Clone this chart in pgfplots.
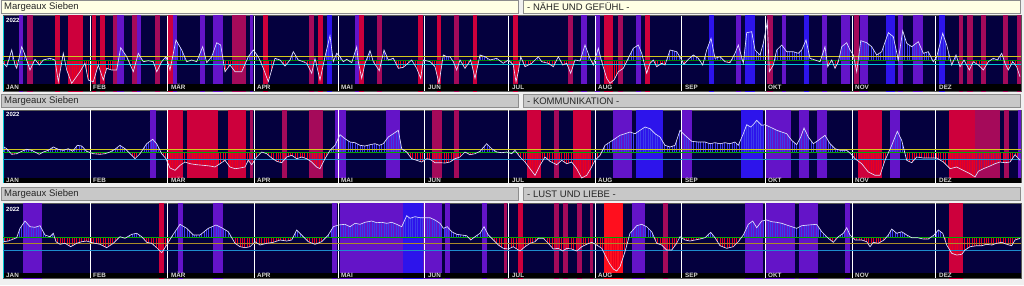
\documentclass[border=0pt]{standalone}
\usepackage{pgfplots}
\pgfplotsset{compat=1.18}
\usepackage{pgfplotstable}
\usetikzlibrary{patterns.meta}
\usepackage{fontspec}
\setmainfont{Liberation Sans}

\definecolor{pagebg}{RGB}{240,240,240}
\definecolor{ylbox}{RGB}{255,255,228}
\definecolor{graybox}{RGB}{200,200,200}
\definecolor{boxedge}{RGB}{140,140,140}
\definecolor{bgnavy}{RGB}{4,0,62}
\definecolor{bR}{RGB}{205,0,60}
\definecolor{bM}{RGB}{165,10,90}
\definecolor{bP}{RGB}{100,20,200}
\definecolor{bB}{RGB}{45,20,235}
\definecolor{bX}{RGB}{255,15,30}
\definecolor{hatchB}{RGB}{60,60,235}
\definecolor{hatchR}{RGB}{235,0,30}
\definecolor{lnY}{RGB}{210,200,30}
\definecolor{lnG}{RGB}{0,170,0}
\definecolor{lnC}{RGB}{0,200,210}
\definecolor{lnS}{RGB}{30,140,205}
\definecolor{lnO}{RGB}{170,140,40}
\definecolor{datal}{RGB}{225,225,255}
\definecolor{mlab}{RGB}{215,215,215}

\pgfplotstableread{
x y
3.3 63.3
6.7 66.7
11.7 50
15 65
16.7 68.3
21.7 46.7
25 55
30 70
35 59.3
39.3 65
43.3 60
50 58.3
55 60
58.3 81.7
63.3 53.3
66.7 70
71.7 83.3
80 71.7
85 63.3
88.3 80
93.3 81.7
98.3 65
103.3 80
106.7 68.3
111.7 70
116.7 70
120.7 47.7
126.7 56.7
133.3 71.7
138.3 53.3
143.3 61.7
148.3 60.7
153.3 61.7
156.7 71.7
161.7 61.7
166 56.7
170 70
176 40
181.7 50
186.7 61.7
191.7 60
196.7 61.7
202.7 46.7
206.7 62.7
211.7 56.7
216.7 42.7
220.7 45
225 71.7
230 65
235 71.7
241.7 71.7
248.3 56.7
253.3 50
258.3 56.7
263.3 68.3
268.3 81.7
275 58.3
280 60
285 66
290 60
293.3 51.7
298.3 60
303.3 61.7
306.7 63.3
311.7 73.3
315 58.3
320 80
325 56.7
330 35.7
333.3 61.7
336.7 53.3
340 56.7
343.3 61.7
346.7 59.3
351.7 62.7
356.7 46.7
358.3 61.7
361.7 78.3
365 63.3
370 50.7
373.3 61.7
379.3 70.7
384 50
388.3 60
393.3 58.3
398.3 68.3
403.3 67.3
411.7 60
416.7 68.3
420.7 78.3
423.3 60
430 61.7
435 66.7
439 83.3
443.3 55
446.7 56.7
450 56.7
453.3 61.7
456.7 70
460 60
465 68.3
470.7 60
475 78.3
480 55
485 56.7
490 60
496.7 58.3
503.3 63.3
508.3 60
513.3 65
516 81.7
518.3 71.7
520.7 56.7
525 66.7
531.7 63.3
538.3 56.7
541.7 61.7
548.3 63.3
553.3 66.7
558.3 56.7
562.7 65
566.7 63.3
570.7 73.3
575 60
580 61
585 45
590 58.3
593.3 65
598.3 48.3
601.7 61.7
606.7 78.3
610 83.3
614 80
618.3 71.7
623.3 68.3
628.3 58.3
633.3 48.3
638.3 45
641.7 53.3
646.7 73.3
650 63.3
653.3 60
656.7 66.7
661.7 63.3
665 65
670 50
676.7 51.7
681.7 60
684 64.3
688.3 59.3
693.3 55
698.3 58.3
702.7 65
706.7 50
711 38.3
715 58.3
720 56.7
725 61.7
730 62.7
735 53.3
738.3 45
743.3 63.3
746.7 32.7
751.7 31.7
755 50
760 55
763.3 43.3
767.3 22
769.3 71.7
773.3 65
776.7 50
781.7 45
786.7 51.7
793.3 51.7
798.3 53.3
801.7 50
806 40
810 58.3
815 60
820 61.7
825 46.7
827.7 66.7
831.7 60
835 68.3
838.3 61.7
841.7 46.7
846.7 42.7
850 50
853.3 55
856.7 71.7
860.7 40.7
866.7 42.7
871.7 46.7
876.7 55
881.7 51.7
888.3 32.7
893.3 36.7
898.3 60
902.7 30.7
906.7 43.3
911.7 46.7
918.3 41.7
923.3 53.3
928.3 51.7
933.3 61.7
936.7 56.7
942.7 33.3
946.7 45
951.7 65
956 55
960 66.7
964 60
969.3 70
973.3 61.7
978.3 65
983.3 70
988.3 61.7
993.3 58.3
997.3 60
1001.7 53.3
1005 63.3
1008.3 70
1012.7 61.7
1016.7 66.7
1020 76.7
}\lineA

\pgfplotstableread{
x y
4 147
6.7 148.7
11.7 154.3
16.7 153.7
21.7 151.3
26.7 149.3
31.7 150.3
39.3 154.3
43.3 152
48.3 150.3
53.3 147
58.3 149.3
63.3 150.3
68.3 148.7
72.7 151.3
77.3 145.3
81.7 146
86.7 151.3
93.3 153.7
100 154.3
105 153.7
110 152
115 149.3
120 145.3
125 148.7
130 153.7
135 158.7
140 153.7
146.7 143.7
152.7 139.3
156.7 143.7
161.7 153.7
166 158.7
170 168
175 170.3
180 165.3
185 162
190 163.7
196.7 164.7
203.3 165.3
210 166
215 167
220 163.7
225 160.3
230 167
235 168.7
240 168
245 167
248.3 160.3
251.7 164.7
256.7 157
261.7 152
266.7 153.7
271.7 158
276.7 161.3
281.7 162.7
286.7 157
291.7 155.3
296.7 158.7
301.7 157
306.7 158.7
311.7 162
316.7 167
320 168.7
325 158.7
330 150.3
335 145.3
340 134.7
345 138.7
350 142
355 142.7
360 145.3
365 146
370 144.7
375 143.7
379.3 145.3
383.3 143.7
388.3 137
393.3 133.7
398.3 130.3
401.7 148.7
406.7 152
411.7 158.7
416.7 160.3
421.7 162
426.7 158.7
430 159.3
435 162.7
440 162.7
445 163
450 162
455 158.7
460 157
465 152
470 154.7
475 153.7
480 151.3
486.7 143.7
491.7 148.7
496.7 152
501.7 152.7
506.7 152
511.7 153.7
515 150.3
520 157
525 162
530 168.7
535 175.3
540 165.3
545 157
550 161.3
556.7 164.7
561.7 160.3
566.7 163.7
571.7 162
576.7 168.7
581.7 178
586.7 175.3
590.7 168.7
595 160.3
600 155.3
605 145.3
610 142
615 138.7
620 135.3
625 133.7
630 132
635 133.7
640 130.3
645 127
650 128.7
655 133.7
660 137
665 145.3
670 147
675 145.3
680 130.3
685 135.3
691.7 141.3
698.3 142
705 142
710 143.7
715 142.7
720 143.7
725 142.7
730 143.7
735 142
738.3 145.3
743.3 133.7
746.7 124.7
750.7 127
754 123.7
756.7 120.3
761.7 125.3
765 124.7
770 127
776.7 130.3
781.7 132
786.7 133.7
791.7 140.3
796.7 144.7
800.7 137
804 128
808.3 137
813.3 143.7
818.3 140.3
825 135.3
830 143.7
835 148.7
840 150.3
846.7 150.3
850.7 153.7
855 158.7
861.7 163.7
868.3 172
875 175.3
880 175.3
885 160.3
891.7 145.3
897.3 131.3
901.7 140.3
906.7 160.3
911.7 162.7
916.7 157
923.3 158
930 158
936.7 158
943.3 162
950 168.7
956.7 167
963.3 170.3
970 173.7
975 177
978.3 171.3
983.3 168.7
990 166
995 163.7
1000 162
1005 162.7
1010 162
1015 154.7
1020 160.3
}\lineB

\pgfplotstableread{
x y
3.3 241.7
8.3 241
16.7 237.7
20 228.3
25 221
30 226.7
35 227.3
40 225.7
45 235
50 236.7
53.3 233.3
56 241.7
60 244.3
65 243.3
70.7 246.7
76.7 243.3
81.7 241.7
86.7 241
90.7 242.3
95 243.3
100 244.3
106.7 247.7
113.3 243.3
120 236.7
125 238.3
131.7 234.3
136.7 233.3
141.7 236.7
146.7 242.3
151.7 243.3
156.7 247.7
161.7 252.7
166.7 245
170.7 238.3
175 231.7
180 224.3
186.7 228.3
193.3 235
200 235
208.3 228.3
216 225
221.7 227.7
228.3 231.7
235 243.3
240 246.7
245 247.7
250 246.7
255 241.7
260 245
266.7 243.3
273.3 242.3
280 240
286.7 241
291.7 240
296.7 230
301.7 235
308.3 241.7
315 244.3
321.7 241.7
328.3 235
333.3 226.7
338.3 225
345 224.3
350 226.7
355 223.3
360 224.3
365 222.3
371.7 221
376.7 222.7
381.7 222.3
386.7 223.3
391.7 222.3
396.7 224.3
401.7 226.7
406.7 215.7
410 218.3
415 216.7
420 217.7
425 217.7
430 217.7
435 220
440 223.3
443.3 228.3
447.3 226.7
451.7 231.7
456.7 234.3
461.7 235
466.7 235.7
470.7 240
475 236.7
480 233.3
484 226.7
488.3 235
493.3 240
498.3 245
503.3 248.3
508.3 249
513.3 246.7
520 251
525 246.7
530 243.3
535 241.7
538.3 238.3
543.3 238.3
548.3 243.3
553.3 249
558.3 248.3
562.7 251
566.7 248.3
571.7 249
576.7 251
581.7 246.7
586.7 244.3
591.7 242.3
596.7 245
601.7 248.3
605 255
609.3 263.3
613.3 269
616.7 271
620 266.7
625 251.7
630 233.3
636.7 225.7
641.7 224.3
646.7 226.7
651.7 231.7
656.7 243.3
661.7 245
666.7 250
671.7 250
676.7 243.3
680 236.7
685 240
690 241
695 240
700 239
705 237.7
710.7 232.3
715 237.7
720 245.7
726.7 248.3
733.3 246.7
738.3 241.7
743.3 235
748.3 224.3
752.7 221
756.7 227.7
761.7 221
766.7 220
771.7 221.7
776.7 222.3
781.7 223.3
786.7 225
791.7 226.7
796.7 228.3
801.7 225.7
808.3 225
816.7 224.3
821.7 231.7
828.3 238.3
833.3 242.3
838.3 236.7
843.3 233.3
846.7 227.7
850 235
855 240
861.7 240
866.7 241.7
870 246.7
873.3 242.3
878.3 243.3
884 240
888.3 235
891.7 229
896.7 233.3
901.7 231.7
906.7 235
911.7 237.7
917.3 237.7
923.3 239
928.3 239
934 235
938.3 230
942.7 233.3
946.7 245
951.7 253.3
956.7 255
961.7 254.3
965 250
970 246.7
976.7 245.7
981.7 245.7
986.7 244.3
991.7 245
996.7 243.3
1001.7 242.3
1006.7 244.3
1011.7 245.7
1015 240
1020 238.3
}\lineC

\newcommand\band[3]{\addplot[fill=#3,draw=none,forget plot] coordinates {(#1,0) (#2,0) (#2,300) (#1,300)};}
\newcommand\hln[3]{\addplot[#2,line width=#3,forget plot] coordinates {(3,#1) (1021,#1)};}
\newcommand\strip[2]{\addplot[fill=black,draw=none,forget plot] coordinates {(3,#1) (1021,#1) (1021,#2) (3,#2)};}
\newcommand\seps[2]{\pgfplotsinvokeforeach{90,167,254,338,424,508,595,681,765,852,935}{\addplot[white,line width=0.9pt,forget plot] coordinates {(##1,#1) (##1,#2)};}
  \addplot[lnC,line width=1.2pt,forget plot] coordinates {(3.8,#1) (3.8,#2)};}
\tikzset{ml/.style={anchor=base west,inner sep=0pt,text=mlab,font=\fontsize{6.3}{6.3}\selectfont\bfseries}}
\newcommand\monthlabels[1]{%
  \node[ml] at (axis cs:6,#1) {JAN};
  \node[ml] at (axis cs:93,#1) {FEB};
  \node[ml] at (axis cs:171,#1) {MÄR};
  \node[ml] at (axis cs:257,#1) {APR};
  \node[ml] at (axis cs:341,#1) {MAI};
  \node[ml] at (axis cs:428,#1) {JUN};
  \node[ml] at (axis cs:512,#1) {JUL};
  \node[ml] at (axis cs:598,#1) {AUG};
  \node[ml] at (axis cs:685,#1) {SEP};
  \node[ml] at (axis cs:768,#1) {OKT};
  \node[ml] at (axis cs:855,#1) {NOV};
  \node[ml] at (axis cs:939,#1) {DEZ};}
\newcommand\yearlabel[1]{\node[anchor=west,inner sep=0pt,text=white,font=\fontsize{6}{6}\selectfont\bfseries] at (axis cs:6,#1) {2022};}

\pgfplotsset{
  base/.style={scale only axis, width=1018pt, xmin=3, xmax=1021,
    y dir=reverse, anchor=north west, xtick=\empty, ytick=\empty, clip=true},
  panel/.style={base, axis line style={draw=black!65, line width=0.6pt},
    axis background/.style={fill=bgnavy}},
  over/.style={base, axis line style={draw=none}},
  upfill/.style n args={2}{base, axis line style={draw=none},
    at={(3pt,-#2pt)}, height=#1pt, ymin=-#1, ymax=0},
  dnfill/.style n args={2}{base, axis line style={draw=none},
    at={(3pt,-#1pt)}, height=#2pt, ymin=0, ymax=#2}}
\tikzset{hB/.style={draw=none,pattern={Lines[angle=90,distance=2.4pt,line width=0.65pt]},pattern color=hatchB},
  hR/.style={draw=none,pattern={Lines[angle=90,distance=2.4pt,line width=0.65pt]},pattern color=hatchR}}

\begin{document}
\begin{tikzpicture}
\fill[pagebg] (0pt,0pt) rectangle (1024pt,-285pt);
\useasboundingbox (0pt,0pt) rectangle (1024pt,-285pt);
% title bars
\filldraw[fill=ylbox,draw=boxedge,line width=0.8pt] (1pt,-0.5pt) rectangle (518pt,-13pt);
\filldraw[fill=ylbox,draw=boxedge,line width=0.8pt] (523pt,-0.5pt) rectangle (1020pt,-13pt);
\filldraw[fill=graybox,draw=boxedge,line width=0.8pt] (1pt,-94pt) rectangle (518pt,-107.5pt);
\filldraw[fill=graybox,draw=boxedge,line width=0.8pt] (523pt,-94pt) rectangle (1020pt,-107.5pt);
\filldraw[fill=graybox,draw=boxedge,line width=0.8pt] (1pt,-187pt) rectangle (518pt,-200.5pt);
\filldraw[fill=graybox,draw=boxedge,line width=0.8pt] (523pt,-187pt) rectangle (1020pt,-200.5pt);
\tikzset{tt/.style={anchor=west,inner sep=0pt,text=black!85,font=\fontsize{9.5}{10}\selectfont}}
\node[tt] at (4pt,-7pt) {Margeaux Sieben};
\node[tt] at (527pt,-7pt) {- NÄHE UND GEFÜHL -};
\node[tt] at (4pt,-101pt) {Margeaux Sieben};
\node[tt] at (527pt,-101pt) {- KOMMUNIKATION -};
\node[tt] at (4pt,-194pt) {Margeaux Sieben};
\node[tt] at (527pt,-194pt) {- LUST UND LIEBE -};

% ================= panel 1 (top 15.5, base 60, strip 84, bottom 91)
\begin{axis}[panel, at={(3pt,-15.5pt)}, height=75.5pt, ymin=15.5, ymax=91]
\band{19}{23}{bP}\band{27}{33}{bM}\band{55}{60}{bR}\band{68}{83}{bR}
\band{92}{96}{bR}\band{100}{105}{bR}\band{113}{117}{bM}\band{117}{124}{bP}
\band{132}{137}{bM}\band{137}{141}{bP}\band{155}{160}{bM}\band{168}{173}{bR}
\band{173}{177}{bP}\band{200}{205}{bP}\band{213}{223}{bP}\band{232}{246}{bM}
\band{250}{253}{bP}\band{263}{268}{bR}\band{309}{314}{bM}\band{318}{323}{bR}
\band{327}{332}{bB}\band{355}{359}{bP}\band{359}{364}{bR}\band{377}{382}{bM}
\band{418}{423}{bR}\band{437}{441}{bR}\band{454}{459}{bM}\band{473}{477}{bR}
\band{513}{518}{bR}\band{568}{573}{bM}\band{581}{587}{bP}\band{595}{600}{bP}
\band{604}{613}{bR}\band{618}{623}{bM}\band{636}{641}{bP}\band{645}{650}{bR}
\band{709}{714}{bB}\band{736}{741}{bP}\band{745}{755}{bB}\band{767}{773}{bM}
\band{782}{786}{bP}\band{804}{809}{bB}\band{822}{827}{bP}\band{841}{850}{bP}
\band{854}{859}{bM}\band{860}{868}{bP}\band{886}{895}{bB}\band{898}{903}{bP}
\band{913}{923}{bP}\band{939}{945}{bB}\band{959}{963}{bM}\band{967}{973}{bM}
\band{981}{986}{bM}\band{1003}{1008}{bM}\band{1017}{1021}{bM}
\strip{84}{91}
\end{axis}
\begin{axis}[upfill={44.5}{15.5}]
\addplot[hB] table[y expr=\thisrow{y}-60] {\lineA} \closedcycle;
\end{axis}
\begin{axis}[dnfill={60}{24}]
\addplot[hR] table[y expr=\thisrow{y}-60] {\lineA} \closedcycle;
\end{axis}
\begin{axis}[over, at={(3pt,-15.5pt)}, height=75.5pt, ymin=15.5, ymax=91]
\seps{15.5}{91}
\hln{56}{lnY}{0.7pt}
\hln{60}{lnG!80!black}{0.7pt}
\hln{64}{lnC}{0.9pt}
\addplot[datal,line width=0.65pt] table {\lineA};
\monthlabels{89.8}
\yearlabel{20.5}
\end{axis}

% ================= panel 2 (top 110, base 152, strip 177.8, bottom 182.5)
\begin{axis}[panel, at={(3pt,-110pt)}, height=72.5pt, ymin=110, ymax=182.5]
\band{150}{156}{bP}\band{168}{183}{bR}\band{187}{218}{bR}\band{228}{246}{bR}
\band{250}{253}{bM}\band{282}{287}{bM}\band{309}{323}{bM}\band{335}{346}{bP}
\band{386}{400}{bP}\band{432}{442}{bM}\band{454}{459}{bM}\band{527}{541}{bR}
\band{554}{559}{bM}\band{573}{591}{bR}\band{613}{632}{bP}\band{636}{663}{bB}
\band{682}{692}{bP}\band{741}{763}{bB}\band{765}{791}{bP}\band{799}{809}{bP}
\band{817}{827}{bP}\band{858}{882}{bR}\band{890}{900}{bP}\band{949}{975}{bR}
\band{975}{1000}{bM}\band{1004}{1009}{bM}\band{1018}{1021}{bP}
\strip{177.8}{182.5}
\end{axis}
\begin{axis}[upfill={42}{110}]
\addplot[hB] table[y expr=\thisrow{y}-152] {\lineB} \closedcycle;
\end{axis}
\begin{axis}[dnfill={152}{25.8}]
\addplot[hR] table[y expr=\thisrow{y}-152] {\lineB} \closedcycle;
\end{axis}
\begin{axis}[over, at={(3pt,-110pt)}, height=72.5pt, ymin=110, ymax=182.5]
\seps{110}{182.5}
\hln{149.3}{lnY}{0.7pt}
\hln{152}{lnG}{0.7pt}
\hln{159.7}{lnS}{1.3pt}
\addplot[datal,line width=0.65pt] table {\lineB};
\monthlabels{182.3}
\yearlabel{114.5}
\end{axis}

% ================= panel 3 (top 203, base 237.3, strip 273, bottom 278)
\begin{axis}[panel, at={(3pt,-203pt)}, height=75pt, ymin=203, ymax=278]
\band{23}{42}{bP}\band{159}{164}{bR}\band{178}{183}{bP}\band{213}{223}{bP}
\band{332}{337}{bP}\band{340}{403}{bP}\band{403}{423}{bB}\band{423}{442}{bP}
\band{445}{450}{bP}\band{482}{487}{bP}\band{504}{507}{bM}\band{518}{523}{bR}
\band{554}{559}{bM}\band{563}{568}{bM}\band{577}{582}{bM}\band{590}{593}{bM}
\band{604}{623}{bX}\band{632}{645}{bP}\band{663}{668}{bM}\band{745}{763}{bP}
\band{765}{795}{bP}\band{799}{818}{bP}\band{845}{850}{bP}\band{949}{963}{bR}
\strip{273}{278}
\end{axis}
\begin{axis}[upfill={34.3}{203}]
\addplot[hB] table[y expr=\thisrow{y}-237.3] {\lineC} \closedcycle;
\end{axis}
\begin{axis}[dnfill={237.3}{35.7}]
\addplot[hR] table[y expr=\thisrow{y}-237.3] {\lineC} \closedcycle;
\end{axis}
\begin{axis}[over, at={(3pt,-203pt)}, height=75pt, ymin=203, ymax=278]
\seps{203}{278}
\hln{237.3}{lnG}{0.8pt}
\hln{243.7}{lnO}{0.9pt}
\hln{250.7}{lnS}{1.3pt}
\addplot[datal,line width=0.65pt] table {\lineC};
\monthlabels{277.6}
\yearlabel{209}
\end{axis}
\end{tikzpicture}
\end{document}
